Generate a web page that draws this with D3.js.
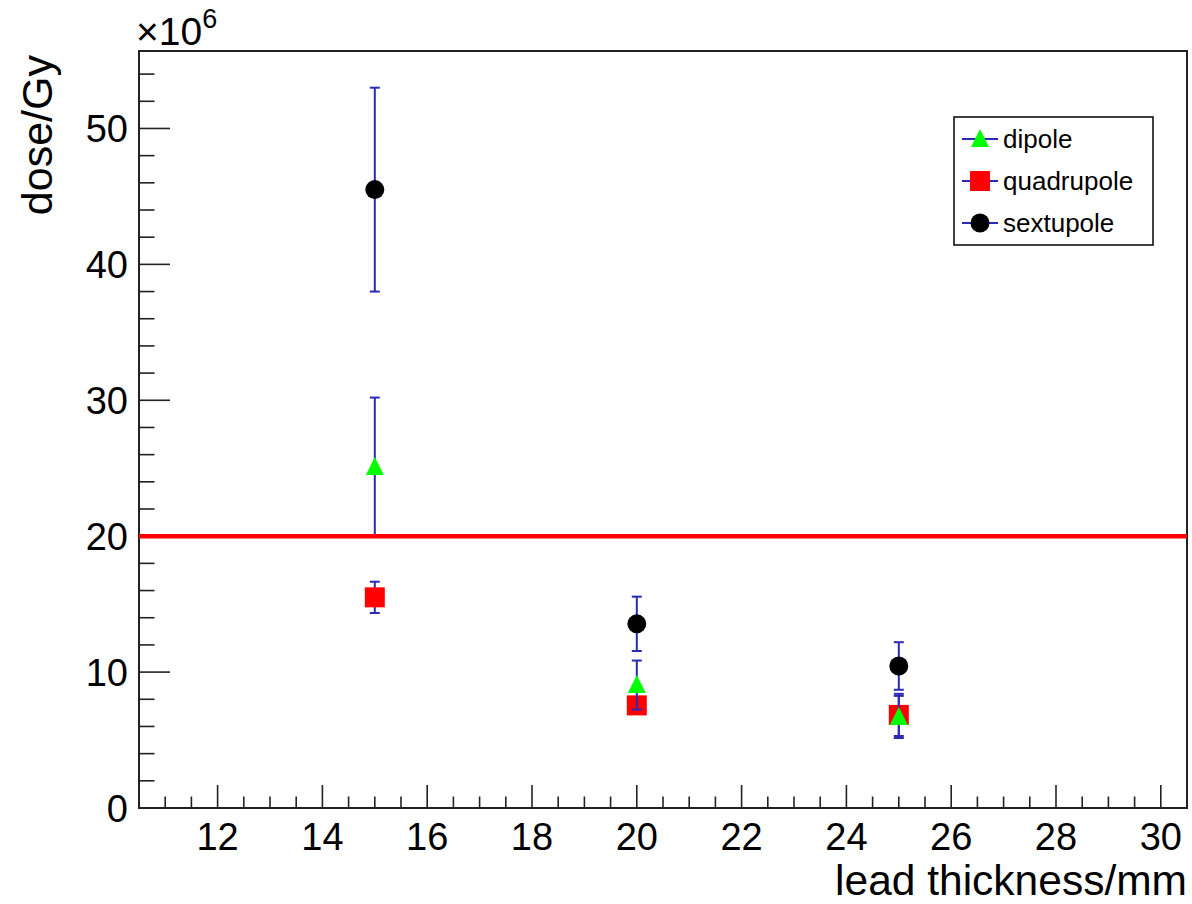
<!DOCTYPE html>
<html><head><meta charset="utf-8">
<script src="https://cdn.jsdelivr.net/npm/d3@7"></script>
<style>body{margin:0;background:#fff}svg{display:block}text{font-family:"Liberation Sans",Arial,sans-serif}</style>
</head><body>
<svg id="c" width="1192" height="904"></svg>
<script>
// data (doses in units of 1e6 Gy)
const thickness = [15, 20, 25];
const seriesNames = ["quadrupole", "dipole", "sextupole"];
const quadrupole = [15.5, 7.55, 6.85];
const quadrupoleErr = [1.15, 0.5, 1.55];
const dipole = [25.1, 9.05, 6.7];
const dipoleErr = [5.1, 1.8, 1.55];
const sextupole = [45.5, 13.55, 10.45];
const sextupoleErr = [7.5, 2.0, 1.75];
const limitDose = 20;
const xTicks = [12, 14, 16, 18, 20, 22, 24, 26, 28, 30];
const yTicks = [0, 10, 20, 30, 40, 50];
const legendOrder = ["dipole", "quadrupole", "sextupole"];

const svg = d3.select("#c");
const L = 139, R = 1187, T = 51, B = 808;
const x = d3.scaleLinear().domain([10.5, 30.5]).range([L, R]);
const y = d3.scaleLinear().domain([0, 55.7]).range([B, T]);
const errColor = "#2a2ab4";

// frame
svg.append("rect").attr("x", L).attr("y", T).attr("width", R - L).attr("height", B - T)
  .attr("fill", "none").attr("stroke", "#222").attr("stroke-width", 2);

// x axis ticks
const xMajLen = 23, xMinLen = 11.5, yMajLen = 31, yMinLen = 15.5;
const xMinor = d3.range(21, 62).map(v => v / 2).filter(v => !xTicks.includes(v) && v > 10.5 && v < 30.5);
const gx = svg.append("g");
gx.selectAll("line.maj").data(xTicks).join("line")
  .attr("x1", d => x(d)).attr("x2", d => x(d)).attr("y1", B).attr("y2", B - xMajLen)
  .attr("stroke", "#222").attr("stroke-width", 1.6);
gx.selectAll("line.min").data(xMinor).join("line")
  .attr("x1", d => x(d)).attr("x2", d => x(d)).attr("y1", B).attr("y2", B - xMinLen)
  .attr("stroke", "#222").attr("stroke-width", 1.6);
gx.selectAll("text").data(xTicks).join("text")
  .attr("x", d => x(d)).attr("y", B + 42).attr("text-anchor", "middle")
  .attr("font-size", 38).text(d => d);

// y axis ticks
const yMinor = d3.range(0, 56, 2).filter(v => !yTicks.includes(v));
const gy = svg.append("g");
gy.selectAll("line.maj").data(yTicks).join("line")
  .attr("x1", L).attr("x2", L + yMajLen).attr("y1", d => y(d)).attr("y2", d => y(d))
  .attr("stroke", "#222").attr("stroke-width", 1.6);
gy.selectAll("line.min").data(yMinor).join("line")
  .attr("x1", L).attr("x2", L + yMinLen).attr("y1", d => y(d)).attr("y2", d => y(d))
  .attr("stroke", "#222").attr("stroke-width", 1.6);
gy.selectAll("text").data(yTicks).join("text")
  .attr("x", L - 11).attr("y", d => y(d) + 14).attr("text-anchor", "end")
  .attr("font-size", 38).text(d => d);

// exponent
const ex = svg.append("text").attr("x", L - 3).attr("y", 45).attr("font-size", 39);
ex.append("tspan").text("×10");
ex.append("tspan").attr("dy", -17).attr("font-size", 27).text("6");

// axis titles
svg.append("text").attr("x", R).attr("y", 895).attr("text-anchor", "end")
  .attr("font-size", 42.5).text("lead thickness/mm");
svg.append("text").attr("transform", `translate(52,${T + 4}) rotate(-90)`)
  .attr("text-anchor", "end").attr("font-size", 43).text("dose/Gy");

// markers
function marker(g, type, cx, cy, s) {
  if (type === "dipole") {
    g.append("path").attr("d", `M${cx},${cy - s * 0.55} L${cx + s * 0.5},${cy + s * 0.45} L${cx - s * 0.5},${cy + s * 0.45}Z`)
      .attr("fill", "#00ff00");
  } else if (type === "quadrupole") {
    g.append("rect").attr("x", cx - s / 2).attr("y", cy - s / 2).attr("width", s).attr("height", s)
      .attr("fill", "#ff0000");
  } else {
    g.append("circle").attr("cx", cx).attr("cy", cy).attr("r", s / 2).attr("fill", "#000");
  }
}
const sizes = { dipole: 18, quadrupole: 20, sextupole: 19 };
const data = {
  quadrupole: [quadrupole, quadrupoleErr],
  dipole: [dipole, dipoleErr],
  sextupole: [sextupole, sextupoleErr]
};

seriesNames.forEach(name => {
  const [vals, errs] = data[name];
  const g = svg.append("g");
  thickness.forEach((t, i) => {
    const cx = x(t), top = y(vals[i] + errs[i]), bot = y(vals[i] - errs[i]);
    g.append("line").attr("x1", cx).attr("x2", cx).attr("y1", top).attr("y2", bot)
      .attr("stroke", errColor).attr("stroke-width", 2);
    [top, bot].forEach(yy => g.append("line").attr("x1", cx - 5).attr("x2", cx + 5)
      .attr("y1", yy).attr("y2", yy).attr("stroke", errColor).attr("stroke-width", 2));
  });
  thickness.forEach((t, i) => marker(g, name, x(t), y(vals[i]), sizes[name]));
});

// limit line
svg.append("line").attr("x1", L).attr("x2", R).attr("y1", y(limitDose)).attr("y2", y(limitDose))
  .attr("stroke", "#ff0000").attr("stroke-width", 4.5);

// legend
const lg = svg.append("g");
lg.append("rect").attr("x", 954).attr("y", 117).attr("width", 199).attr("height", 128)
  .attr("fill", "#fff").attr("stroke", "#111").attr("stroke-width", 1.6);
legendOrder.forEach((name, i) => {
  const cy = 139 + i * 42;
  lg.append("line").attr("x1", 962).attr("x2", 998).attr("y1", cy).attr("y2", cy)
    .attr("stroke", errColor).attr("stroke-width", 2);
  marker(lg, name, 980, cy, sizes[name]);
  lg.append("text").attr("x", 1003).attr("y", cy + 9).attr("font-size", 26).text(name);
});
</script>
</body></html>
